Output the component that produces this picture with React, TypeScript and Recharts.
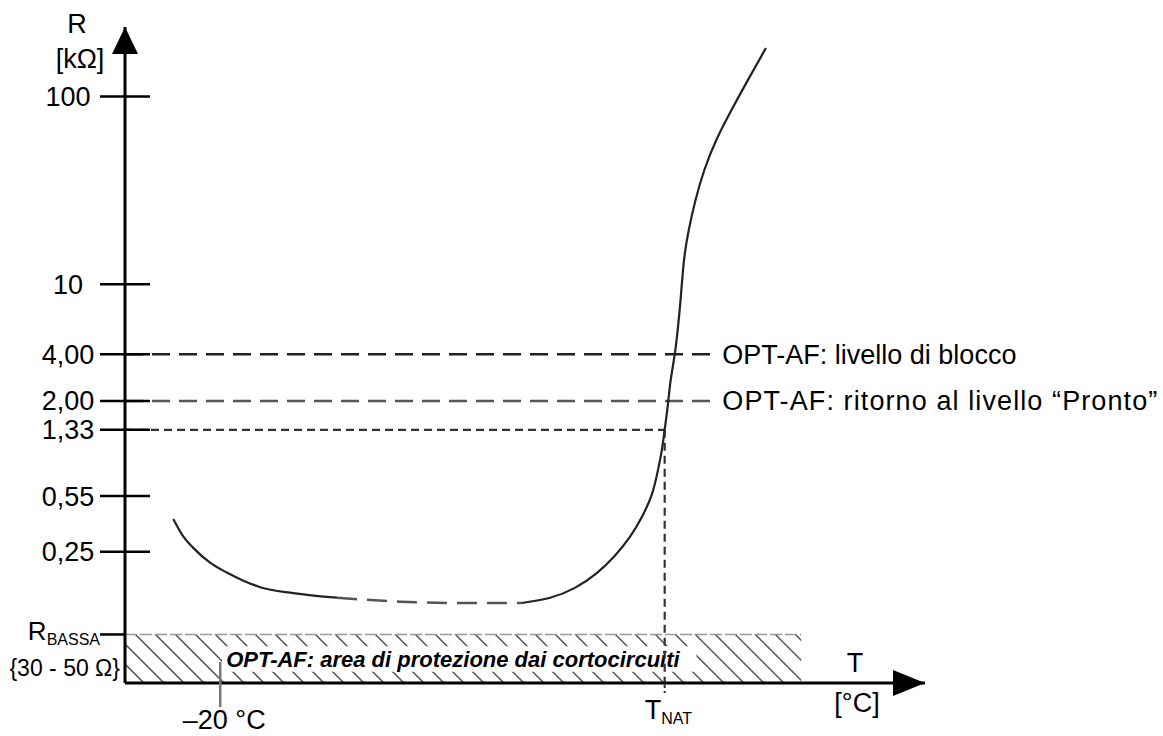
import React from 'react';
import {
  ComposedChart, Line, XAxis, YAxis, ReferenceLine, ReferenceArea, ReferenceDot
} from 'recharts';

const FONT = '"Liberation Sans", Arial, Helvetica, sans-serif';

// Y: schematic resistance scale (position of each level above the T axis, 0..100)
const rLabels = ['R_BASSA', '0,25', '0,55', '1,33', '2,00', '4,00', '10', '100'];
const rLevels = [7.4, 20, 28.5, 38.6, 43, 50.1, 60.8, 89.4];

// X: temperature (schematic), only two marked points
const tTicks = [-20, 120];
const tLabels = ['–20 °C', 'T_NAT'];

// PTC curve, in three pieces (the middle one is dashed)
const tLeft = [-34.8, -31.6, -28.5, -23.1, -17.8, -12.7, -7.4, 3.0, 16.8];
const rLeft = [25.0, 22.3, 20.6, 18.3, 16.8, 15.6, 14.6, 13.7, 13.0];
const tMid = [16.8, 36.7, 55.5, 75.0];
const rMid = [13.0, 12.4, 12.2, 12.2];
const tRight = [75.0, 83.9, 91.7, 98.7, 104.3, 109.1, 112.8, 116.0, 117.9, 119.1, 120.0, 121.0, 121.9,
  123.2, 124.2, 125.0, 126.1, 127.6, 129.7, 132.5, 136.3, 141.0, 146.2, 151.9];
const rRight = [12.2, 13.0, 14.5, 16.8, 19.4, 22.3, 25.3, 28.8, 32.5, 35.5, 38.6, 42.4, 46.2,
  50.2, 54.3, 58.4, 64.5, 69.1, 73.6, 78.2, 82.8, 87.3, 91.9, 96.8];

// OPT-AF thresholds
const blockLevel = 50.1;
const readyLevel = 43;
const natLevel = 38.6;
const tNat = 120;
const levelLineEnd = 135;
const blockText = 'OPT-AF: livello di blocco';
const readyText = 'OPT-AF: ritorno al livello “Pronto”';

// short-circuit protection band
const bandLevel = 7.4;
const bandEnd = 163;
const bandText = 'OPT-AF: area di protezione dai cortocircuiti';
const boxT = [-19.4, 130];
const boxR = [1.7, 5.6];

const xMin = -50;
const xMax = 202;

const zip = (ts: number[], rs: number[]) => ts.map((t, i) => ({ t, r: rs[i] }));
const leftData = zip(tLeft, rLeft);
const midData = zip(tMid, rMid);
const rightData = zip(tRight, rRight);

const YTick = (props: any) => {
  const { x, y, payload } = props;
  const label = rLabels[rLevels.indexOf(payload.value)];
  if (label === 'R_BASSA') {
    return (
      <g fontFamily={FONT} fill="#000">
        <line x1={x - 25} x2={x} y1={y} y2={y} stroke="#000" strokeWidth={2.5} />
        <text x={x - 25} y={y + 6} textAnchor="end" fontSize={26}>
          R<tspan fontSize={16} dy={5}>BASSA</tspan>
        </text>
        <text x={x - 5} y={y + 42} textAnchor="end" fontSize={23}>{'{30 - 50 Ω}'}</text>
      </g>
    );
  }
  return (
    <g fontFamily={FONT} fill="#000">
      <line x1={x - 25} x2={x + 25} y1={y} y2={y} stroke="#000" strokeWidth={2.5} />
      <text x={x - 57} y={y + 9.5} textAnchor="middle" fontSize={27}>{label}</text>
    </g>
  );
};

const XTick = (props: any) => {
  const { x, y, payload } = props;
  const label = tLabels[tTicks.indexOf(payload.value)];
  if (label === 'T_NAT') {
    return (
      <g fontFamily={FONT} fill="#000">
        <line x1={x} x2={x} y1={y} y2={y + 10} stroke="#333" strokeWidth={2} strokeDasharray="5 3" />
        <text x={x - 20} y={y + 36} fontSize={27}>
          T<tspan fontSize={16} dy={5}>NAT</tspan>
        </text>
      </g>
    );
  }
  return (
    <g fontFamily={FONT} fill="#000">
      <line x1={x} x2={x} y1={y - 21} y2={y + 24} stroke="#777" strokeWidth={2.5} />
      <text x={x + 4} y={y + 46} textAnchor="middle" fontSize={27}>{label}</text>
    </g>
  );
};

const ArrowUp = (p: any) => (
  <polygon points={`${p.cx},${p.cy} ${p.cx - 13},${p.cy + 27} ${p.cx + 13},${p.cy + 27}`} fill="#000" />
);
const ArrowRight = (p: any) => (
  <polygon points={`${p.cx},${p.cy} ${p.cx - 32},${p.cy - 13} ${p.cx - 32},${p.cy + 13}`} fill="#000" />
);

const levelLabel = (text: string, spacing: number) => (p: any) => {
  const vb = p.viewBox;
  return (
    <text x={vb.x + vb.width + 10} y={vb.y + 9.5} fontSize={27} letterSpacing={spacing}
      fontFamily={FONT} fill="#000">{text}</text>
  );
};

const bandLabel = (p: any) => {
  const vb = p.viewBox;
  return (
    <text x={vb.x + 4} y={vb.y + vb.height / 2 + 8} fontSize={22} fontWeight="bold" fontStyle="italic"
      fontFamily={FONT} fill="#000">{bandText}</text>
  );
};

const yAxisLabel = (p: any) => {
  const vb = p.viewBox;
  return (
    <g fontFamily={FONT} fill="#000" fontSize={27}>
      <text x={77} y={vb.y + 6} textAnchor="middle">R</text>
      <text x={80} y={vb.y + 41} textAnchor="middle">[kΩ]</text>
    </g>
  );
};

const xAxisLabel = (p: any) => {
  const vb = p.viewBox;
  const right = vb.x + vb.width;
  return (
    <g fontFamily={FONT} fill="#000" fontSize={27}>
      <text x={right - 70} y={vb.y - 11} textAnchor="middle">T</text>
      <text x={right - 68} y={vb.y + 29} textAnchor="middle">[°C]</text>
    </g>
  );
};

export default function App() {
  return (
    <div style={{ position: 'absolute', left: 0, top: 0, background: '#fff' }}>
      <ComposedChart width={1163} height={736} margin={{ top: 27, right: 238, bottom: 0, left: 0 }}>
        <defs>
          <pattern id="hatch" patternUnits="userSpaceOnUse" width={14.14} height={10} patternTransform="rotate(-45)">
            <line x1={0} y1={0} x2={0} y2={10} stroke="#222" strokeWidth={2.4} />
          </pattern>
        </defs>
        <XAxis type="number" dataKey="t" domain={[xMin, xMax]} allowDataOverflow ticks={tTicks} interval={0}
          height={53} tickSize={0} tickMargin={0} tick={<XTick />}
          axisLine={{ stroke: '#000', strokeWidth: 3 }} label={{ content: xAxisLabel }} />
        <YAxis type="number" dataKey="r" domain={[0, 100]} allowDataOverflow ticks={rLevels} interval={0}
          width={125} tickSize={0} tickMargin={0} tick={<YTick />}
          axisLine={{ stroke: '#000', strokeWidth: 3 }} label={{ content: yAxisLabel }} />

        <ReferenceArea x1={xMin} x2={bandEnd} y1={0} y2={bandLevel} fill="url(#hatch)" fillOpacity={1}
          stroke="none" ifOverflow="visible" />
        <ReferenceLine segment={[{ x: xMin, y: bandLevel }, { x: bandEnd, y: bandLevel }]}
          stroke="#999" strokeWidth={1.5} strokeDasharray="12 3" ifOverflow="visible" />
        <ReferenceLine segment={[{ x: tNat, y: natLevel }, { x: tNat, y: 0 }]}
          stroke="#333" strokeWidth={2.2} strokeDasharray="8 5" ifOverflow="visible" />
        <ReferenceArea x1={boxT[0]} x2={boxT[1]} y1={boxR[0]} y2={boxR[1]} fill="#fff" fillOpacity={1}
          stroke="none" ifOverflow="visible" label={{ content: bandLabel }} />

        <ReferenceLine segment={[{ x: xMin, y: blockLevel }, { x: levelLineEnd, y: blockLevel }]}
          stroke="#222" strokeWidth={2.5} strokeDasharray="18 9" ifOverflow="visible"
          label={{ content: levelLabel(blockText, 0) }} />
        <ReferenceLine segment={[{ x: xMin, y: readyLevel }, { x: levelLineEnd, y: readyLevel }]}
          stroke="#555" strokeWidth={2.5} strokeDasharray="18 9" ifOverflow="visible"
          label={{ content: levelLabel(readyText, 1.1) }} />
        <ReferenceLine segment={[{ x: xMin, y: natLevel }, { x: tNat, y: natLevel }]}
          stroke="#333" strokeWidth={2.2} strokeDasharray="8 5" ifOverflow="visible" />

        <Line data={leftData} dataKey="r" type="monotone" stroke="#222" strokeWidth={2.2} dot={false}
          isAnimationActive={false} />
        <Line data={midData} dataKey="r" type="monotone" stroke="#555" strokeWidth={2.5} strokeDasharray="20 10"
          dot={false} isAnimationActive={false} />
        <Line data={rightData} dataKey="r" type="natural" stroke="#222" strokeWidth={2.2} dot={false}
          isAnimationActive={false} />

        <ReferenceDot x={xMin} y={100} r={0} shape={ArrowUp} ifOverflow="visible" />
        <ReferenceDot x={xMax} y={0} r={0} shape={ArrowRight} ifOverflow="visible" />
      </ComposedChart>
    </div>
  );
}
